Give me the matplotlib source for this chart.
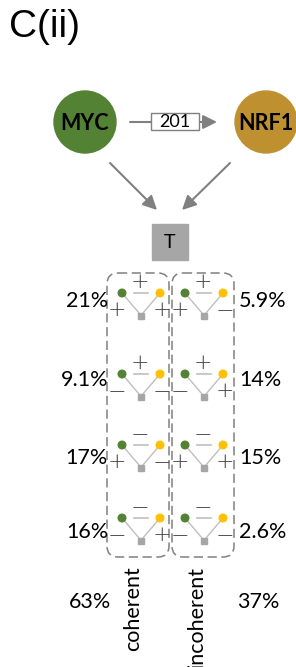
import matplotlib
matplotlib.use("Agg")
import matplotlib.pyplot as plt
from matplotlib.patches import Circle, Rectangle, FancyBboxPatch

# ---- data ----
tf_names = ["MYC", "NRF1"]
edge_count = "201"
target_label = "T"
# (MYC->NRF1, MYC->T, NRF1->T) signs per motif
coherent_signs = [("+", "+", "+"), ("+", "-", "-"), ("-", "+", "-"), ("-", "-", "+")]
coherent_pct = ["21%", "9.1%", "17%", "16%"]
incoherent_signs = [("+", "+", "-"), ("+", "-", "+"), ("-", "+", "+"), ("-", "-", "-")]
incoherent_pct = ["5.9%", "14%", "15%", "2.6%"]
group_labels = ["coherent", "incoherent"]
group_pct = ["63%", "37%"]
panel_title = "C(ii)"

# ---- style ----
GREEN = "#548235"
GOLD = "#BF9030"
YELLOW = "#FFC000"
GRAY = "#808080"
LGRAY = "#BFBFBF"
TGRAY = "#A6A6A6"
SIGN = "#404040"
FONT = ["Lato", "DejaVu Sans"]
PCT_FS = 15.5

W, H = 296, 667
fig = plt.figure(figsize=(W / 100, H / 100), dpi=100)
ax = fig.add_axes([0, 0, 1, 1])
ax.set_xlim(0, W)
ax.set_ylim(H, 0)
ax.axis("off")

ax.text(9, 27, panel_title, fontsize=28, family="Liberation Sans", va="center", ha="left")

# regulators
cy = 122
for name, cx, col in [(tf_names[0], 85, GREEN), (tf_names[1], 266, GOLD)]:
    ax.add_patch(Circle((cx, cy), 31, color=col, zorder=2))
    ax.text(cx, cy + 1, name, fontsize=15.5, fontweight="bold", family=FONT,
            ha="center", va="center", zorder=3)

arrow_kw = dict(arrowstyle="-|>,head_length=0.7,head_width=0.35", color=GRAY, lw=1.5,
                mutation_scale=12, shrinkA=0, shrinkB=0)
ax.annotate("", xy=(217, cy), xytext=(130, cy), arrowprops=arrow_kw)
ax.add_patch(Rectangle((151, 113), 48, 17, facecolor="white", edgecolor=GRAY, lw=1, zorder=3))
ax.text(175, 122, edge_count, fontsize=13, family=FONT, ha="center", va="center", zorder=4)
ax.annotate("", xy=(157, 210), xytext=(110, 163), arrowprops=arrow_kw)
ax.annotate("", xy=(182, 210), xytext=(230, 163), arrowprops=arrow_kw)

ax.add_patch(Rectangle((152, 224), 36, 36, color=TGRAY, zorder=2))
ax.text(170, 242, target_label, fontsize=14, family=FONT, ha="center", va="center", zorder=3)

# group boxes
for x0, x1 in [(107, 169), (172, 234)]:
    ax.add_patch(FancyBboxPatch((x0, 273), x1 - x0, 557 - 273,
                                boxstyle="round,pad=0,rounding_size=11",
                                fill=False, edgecolor=GRAY, lw=1.1,
                                linestyle=(0, (6, 3)), zorder=1))

dot_y = [293, 374, 445, 518]
pct_y = [301, 380, 458, 532]


def sign_char(s):
    return "+" if s == "+" else "\u2212"


def motif(cx, y, signs):
    gx, yx = cx - 19, cx + 19
    sq_y = y + 23
    ax.plot([gx, cx - 2], [y, sq_y - 3], color=LGRAY, lw=1, zorder=2)
    ax.plot([yx, cx + 2], [y, sq_y - 3], color=LGRAY, lw=1, zorder=2)
    ax.plot([cx - 7, cx + 7], [y, y], color=LGRAY, lw=1.2, zorder=2)
    ax.add_patch(Circle((gx, y), 3.8, color=GREEN, zorder=3))
    ax.add_patch(Circle((yx, y), 3.8, color=YELLOW, zorder=3))
    ax.add_patch(Rectangle((cx - 3, sq_y - 3), 6, 6, color=TGRAY, zorder=3))
    top, left, right = signs
    kw = dict(fontsize=16, color=SIGN, ha="center", va="center", zorder=4,
              family="DejaVu Sans", fontweight="light")
    ax.text(cx - 1, y - 11, sign_char(top), **kw)
    ax.text(gx - 5, y + 17, sign_char(left), **kw)
    ax.text(yx + 2, y + 17, sign_char(right), **kw)


for i in range(4):
    motif(141, dot_y[i], coherent_signs[i])
    motif(204, dot_y[i], incoherent_signs[i])
    ax.text(108, pct_y[i], coherent_pct[i], fontsize=PCT_FS, family=FONT, ha="right", va="center")
    ax.text(239, pct_y[i], incoherent_pct[i], fontsize=PCT_FS, family=FONT, ha="left", va="center")

ax.text(90, 602, group_pct[0], fontsize=PCT_FS, family=FONT, ha="center", va="center")
ax.text(258, 602, group_pct[1], fontsize=PCT_FS, family=FONT, ha="center", va="center")
ax.text(133, 566, group_labels[0], fontsize=PCT_FS, family=FONT, rotation=90, ha="center", va="top")
ax.text(197, 566, group_labels[1], fontsize=PCT_FS, family=FONT, rotation=90, ha="center", va="top")

fig.savefig("out.png", dpi=100)
